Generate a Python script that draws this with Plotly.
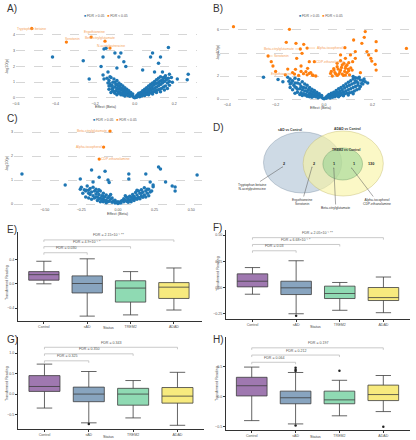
import plotly.graph_objects as go

W, H = 416, 440
BLUE = "#1f77b4"
ORANGE = "#ff7f0e"
LABEL_ORANGE = "#f5a25a"
FONT = "Liberation Sans, Arial, sans-serif"

# ------------------------------------------------------------------ data
# Volcano A (sAD vs Control): (effect, -log10 p)
a_ns = [
    (-0.415, 2.6), (-0.26, 2.35), (-0.23, 1.2), (-0.17, 2.0), (-0.16, 2.6), (-0.155, 3.1),
    (-0.145, 3.15), (-0.155, 1.2), (-0.125, 1.35), (-0.135, 1.65), (-0.16, 1.45),
    (-0.1, 2.85), (-0.07, 2.85), (-0.08, 2.6), (-0.055, 2.3), (-0.045, 2.0), (-0.09, 1.9),
    (0.09, 2.85), (0.08, 2.6), (0.12, 2.2), (0.13, 2.6), (0.17, 3.2), (0.04, 1.77),
    (0.1, 1.65), (0.14, 1.65), (0.175, 1.5), (0.155, 1.25), (0.19, 1.0), (0.215, 1.2),
    (0.27, 1.5), (0.265, 1.15),
    (-0.13, 1.1), (-0.125, 0.9), (-0.12, 1.3), (-0.115, 0.8), (-0.11, 1.0), (-0.105, 1.2),
    (-0.1, 0.7), (-0.1, 1.0), (-0.095, 0.85), (-0.09, 1.1), (-0.09, 0.6), (-0.085, 0.75),
    (-0.08, 0.95), (-0.08, 0.55), (-0.075, 0.7), (-0.07, 0.85), (-0.07, 0.5), (-0.065, 0.6),
    (-0.06, 0.75), (-0.06, 0.4), (-0.055, 0.5), (-0.05, 0.65), (-0.05, 0.35), (-0.045, 0.45),
    (-0.04, 0.55), (-0.04, 0.3), (-0.035, 0.4), (-0.03, 0.45), (-0.03, 0.22), (-0.025, 0.3),
    (-0.02, 0.35), (-0.02, 0.15), (-0.015, 0.2), (-0.01, 0.12), (-0.01, 0.25), (-0.005, 0.05),
    (0.0, 0.02), (0.005, 0.08), (0.01, 0.15), (0.01, 0.05), (0.015, 0.2), (0.02, 0.12),
    (0.02, 0.3), (0.025, 0.22), (0.03, 0.35), (0.03, 0.18), (0.035, 0.3), (0.04, 0.45),
    (0.04, 0.25), (0.045, 0.38), (0.05, 0.55), (0.05, 0.3), (0.055, 0.45), (0.06, 0.65),
    (0.06, 0.35), (0.065, 0.5), (0.07, 0.75), (0.07, 0.42), (0.075, 0.6), (0.08, 0.85),
    (0.08, 0.5), (0.085, 0.7), (0.09, 0.95), (0.09, 0.55), (0.095, 0.8), (0.1, 1.05),
    (0.1, 0.62), (0.105, 0.9), (0.11, 1.15), (0.11, 0.7), (0.115, 0.95), (0.12, 1.25),
    (0.12, 0.78), (0.125, 1.05), (0.13, 1.35), (0.13, 0.85), (0.135, 1.1), (0.14, 0.95),
    (0.145, 1.3), (0.15, 1.05), (0.155, 1.4), (0.16, 1.15), (0.165, 0.95), (-0.11, 0.65),
    (-0.12, 0.75), (-0.135, 0.95), (-0.14, 1.25), (0.17, 1.25), (0.175, 1.05), (0.185, 1.3),
    (-0.12, 0.35), (-0.1, 0.3), (-0.09, 0.2), (-0.08, 0.3), (-0.07, 0.2), (-0.06, 0.18),
    (-0.05, 0.12), (-0.11, 0.45), (-0.13, 0.55), (-0.13, 0.75), (-0.095, 0.45), (-0.085, 0.4),
    (-0.075, 0.35), (-0.065, 0.3), (-0.055, 0.25), (-0.045, 0.2), (-0.035, 0.15),
    (-0.025, 0.1), (0.025, 0.08), (0.035, 0.12), (0.045, 0.18), (0.055, 0.22), (0.065, 0.25),
    (0.075, 0.3), (0.085, 0.35), (0.095, 0.4), (0.105, 0.45), (0.115, 0.5), (0.125, 0.55),
    (0.135, 0.6), (0.145, 0.7), (0.155, 0.75), (0.165, 0.6), (0.175, 0.8), (0.15, 0.5),
    (0.13, 0.4), (0.11, 0.35), (0.09, 0.25), (0.07, 0.2), (0.05, 0.15), (-0.115, 0.55),
    (-0.105, 0.4), (0.12, 0.95), (0.14, 1.15), (-0.08, 0.75), (-0.09, 0.85), (0.06, 0.45),
    (0.075, 0.5), (-0.06, 0.55),
]
a_sig = [(-0.52, 4.40), (-0.22, 3.86), (-0.345, 3.54), (-0.15, 3.60), (-0.125, 3.16)]
a_names = ["Tryptophan betaine", "Ergothioneine", "Serotonin",
           "Beta-citrylglutamate", "N-acetylputrescine"]

# Volcano B (ADAD vs Control)
b_ns = [
    (-0.25, 1.9), (0.18, 1.4), (0.16, 1.6), (-0.19, 1.7), (-0.17, 1.5), (0.14, 1.8),
    (0.12, 1.95), (-0.15, 1.9), (-0.14, 1.3),
    (-0.13, 1.6), (-0.125, 1.2), (-0.12, 1.8), (-0.115, 1.0), (-0.11, 1.4), (-0.105, 1.7),
    (-0.1, 0.9), (-0.1, 1.3), (-0.095, 1.1), (-0.09, 1.5), (-0.09, 0.8), (-0.085, 1.0),
    (-0.08, 1.3), (-0.08, 0.7), (-0.075, 0.95), (-0.07, 1.2), (-0.07, 0.65), (-0.065, 0.8),
    (-0.06, 1.0), (-0.06, 0.5), (-0.055, 0.7), (-0.05, 0.85), (-0.05, 0.45), (-0.045, 0.6),
    (-0.04, 0.75), (-0.04, 0.35), (-0.035, 0.5), (-0.03, 0.6), (-0.03, 0.28), (-0.025, 0.4),
    (-0.02, 0.45), (-0.02, 0.18), (-0.015, 0.25), (-0.01, 0.15), (-0.01, 0.3), (-0.005, 0.06),
    (0.0, 0.03), (0.005, 0.1), (0.01, 0.2), (0.01, 0.07), (0.015, 0.28), (0.02, 0.15),
    (0.02, 0.4), (0.025, 0.3), (0.03, 0.5), (0.03, 0.22), (0.035, 0.4), (0.04, 0.6),
    (0.04, 0.32), (0.045, 0.5), (0.05, 0.75), (0.05, 0.4), (0.055, 0.6), (0.06, 0.9),
    (0.06, 0.48), (0.065, 0.7), (0.07, 1.0), (0.07, 0.55), (0.075, 0.8), (0.08, 1.15),
    (0.08, 0.62), (0.085, 0.95), (0.09, 1.3), (0.09, 0.7), (0.095, 1.1), (0.1, 1.45),
    (0.1, 0.8), (0.105, 1.2), (0.11, 1.6), (0.11, 0.9), (0.115, 1.3), (0.12, 1.75),
    (0.12, 1.0), (0.125, 1.4), (0.13, 1.85), (0.13, 1.1), (0.135, 1.5), (0.14, 1.2),
    (0.15, 1.65), (0.155, 1.35), (-0.135, 1.4), (-0.14, 1.75), (-0.145, 1.55), (-0.11, 0.85),
    (-0.12, 1.05), (0.145, 1.9), (0.165, 1.75), (0.17, 1.5),
    (-0.12, 0.5), (-0.1, 0.4), (-0.09, 0.3), (-0.08, 0.35), (-0.07, 0.25), (-0.06, 0.2),
    (-0.05, 0.15), (-0.13, 0.8), (-0.11, 0.6), (-0.095, 0.55), (-0.085, 0.45), (-0.075, 0.4),
    (-0.065, 0.35), (-0.055, 0.3), (-0.045, 0.25), (-0.035, 0.2), (-0.025, 0.12),
    (0.025, 0.1), (0.035, 0.15), (0.045, 0.2), (0.055, 0.28), (0.065, 0.3), (0.075, 0.38),
    (0.085, 0.45), (0.095, 0.5), (0.105, 0.55), (0.115, 0.6), (0.125, 0.7), (0.135, 0.8),
    (0.145, 0.9), (0.15, 1.1), (0.12, 0.45), (0.1, 0.35), (0.08, 0.28), (0.06, 0.2),
    (0.14, 1.4), (-0.14, 1.0), (-0.12, 1.4), (0.16, 1.3), (0.13, 1.6),
]
b_sig = [
    (-0.098, 4.35), (-0.231, 3.74), (-0.122, 2.17), (-0.07, 4.43), (-0.04, 3.25),
    (-0.374, 6.29), (-0.143, 6.06), (-0.156, 4.93), (-0.116, 4.84), (-0.084, 4.75),
    (-0.218, 3.25), (-0.211, 2.87), (-0.15, 2.6), (-0.118, 2.58), (-0.113, 3.54),
    (-0.095, 2.87), (-0.091, 3.97), (-0.061, 3.25), (-0.068, 2.67), (-0.075, 2.38),
    (-0.061, 2.23), (0.17, 5.86), (0.166, 5.36), (0.122, 5.13), (0.215, 4.98),
    (0.156, 4.84), (0.086, 4.46), (0.129, 4.12), (0.177, 4.12), (0.215, 4.2), (0.34, 4.4),
    (0.109, 3.83), (0.184, 3.83), (0.193, 3.54), (0.197, 3.3), (0.129, 3.54), (0.088, 3.54),
    (0.102, 3.16), (0.118, 3.25), (0.068, 3.33), (0.075, 2.96), (0.054, 2.81), (0.041, 2.52),
    (0.068, 2.52), (0.088, 2.67), (0.102, 2.46), (0.116, 2.52), (0.15, 2.29), (0.215, 2.52),
    (0.211, 3.02), (0.048, 2.17), (0.061, 2.17), (0.027, 2.23), (0.034, 2.0), (0.075, 2.17),
    (0.088, 2.09), (0.068, 3.83), (0.054, 3.1), (0.082, 3.1), (0.095, 2.96), (-0.034, 2.0),
    (-0.048, 2.09), (0.045, 2.3), (0.055, 2.05), (0.065, 2.35), (0.08, 2.05), (0.095, 2.3),
    (0.105, 2.1), (0.058, 2.6), (0.072, 2.75), (0.09, 2.85), (0.11, 2.7), (0.04, 2.65),
    (0.03, 2.4), (0.085, 2.4), (0.1, 2.6), (-0.105, 2.05), (-0.085, 2.2), (-0.07, 2.1),
    (-0.055, 2.3), (-0.045, 2.05), (-0.095, 2.4), (-0.13, 2.3), (-0.16, 2.1), (-0.2, 2.4),
]
b_names = ["Beta-citrylglutamate", "Serotonin", "Ergothioneine",
           "Alpha-tocopherol", "CDP-ethanolamine"]

# Volcano C (TREM2 vs Control)
c_ns = [
    (-0.655, 1.25), (-0.36, 0.79), (-0.257, 1.04), (-0.257, 0.62), (-0.18, 1.42),
    (-0.088, 1.37), (-0.128, 1.12), (0.277, 1.54), (0.29, 1.46), (0.54, 1.21), (0.19, 1.25),
    (0.325, 0.92), (0.37, 0.75), (0.39, 0.71), (0.39, 0.54), (0.074, 1.25), (0.074, 1.04),
    (0.22, 0.92), (0.24, 0.79), (-0.17, 0.92), (-0.068, 1.0), (-0.06, 0.9), (-0.216, 0.58),
    (-0.22, 0.29),
    (-0.22, 0.55), (-0.21, 0.75), (-0.2, 0.45), (-0.19, 0.65), (-0.18, 0.5), (-0.17, 0.7),
    (-0.17, 0.35), (-0.16, 0.55), (-0.15, 0.42), (-0.15, 0.62), (-0.14, 0.3), (-0.14, 0.5),
    (-0.13, 0.4), (-0.12, 0.55), (-0.12, 0.25), (-0.11, 0.35), (-0.1, 0.45), (-0.1, 0.2),
    (-0.09, 0.3), (-0.08, 0.38), (-0.08, 0.15), (-0.07, 0.25), (-0.06, 0.32), (-0.06, 0.12),
    (-0.05, 0.2), (-0.04, 0.25), (-0.04, 0.08), (-0.03, 0.13), (-0.02, 0.16), (-0.02, 0.05),
    (-0.01, 0.07), (0.0, 0.02), (0.01, 0.06), (0.02, 0.12), (0.02, 0.04), (0.03, 0.15),
    (0.04, 0.1), (0.04, 0.22), (0.05, 0.17), (0.06, 0.28), (0.06, 0.12), (0.07, 0.22),
    (0.08, 0.33), (0.08, 0.16), (0.09, 0.27), (0.1, 0.4), (0.1, 0.2), (0.11, 0.32),
    (0.12, 0.48), (0.12, 0.24), (0.13, 0.38), (0.14, 0.55), (0.14, 0.28), (0.15, 0.45),
    (0.16, 0.6), (0.16, 0.33), (0.17, 0.5), (0.18, 0.68), (0.18, 0.38), (0.19, 0.55),
    (0.2, 0.45), (0.21, 0.62), (0.22, 0.5), (-0.23, 0.6), (-0.25, 0.7), (0.24, 0.72),
    (-0.13, 0.6), (0.13, 0.58), (0.0, 0.1), (-0.05, 0.4), (0.05, 0.35),
    (-0.2, 0.25), (-0.18, 0.2), (-0.16, 0.25), (-0.14, 0.15), (-0.12, 0.1), (-0.1, 0.1),
    (-0.08, 0.06), (-0.19, 0.4), (-0.15, 0.3), (-0.13, 0.22), (-0.11, 0.18), (-0.09, 0.14),
    (-0.07, 0.1), (0.07, 0.08), (0.09, 0.1), (0.11, 0.15), (0.13, 0.2), (0.15, 0.22),
    (0.17, 0.28), (0.19, 0.3), (0.21, 0.35), (0.16, 0.45), (0.2, 0.62), (0.23, 0.55),
    (-0.24, 0.45), (-0.2, 0.58), (0.1, 0.3), (-0.1, 0.32),
]
c_sig = [(-0.054, 3.04), (-0.098, 2.375), (-0.128, 1.875)]
c_names = ["Beta-citrylglutamate", "Alpha-tocopherol", "CDP-ethanolamine"]

# Venn (D)
venn_sets = ["sAD vs Control", "ADAD vs Control", "TREM2 vs Control"]
venn_counts = ["2", "2", "1", "1", "130"]
venn_members = ["Tryptophan betaine<br>N-acetylputrescine", "Ergothioneine<br>Serotonin",
                "Beta-citrylglutamate", "Alpha-tocopherol<br>CDP-ethanolamine"]

# Box plots (E-H)
groups = ["Control", "sAD", "TREM2", "ADAD"]
box_colors = ["#9f78b0", "#88a4bf", "#8fdab3", "#f7ea7e"]

e_low = [0.0, -0.53, -0.51, -0.43]
e_q1 = [0.06, -0.15, -0.30, -0.24]
e_med = [0.15, 0.005, -0.07, -0.055]
e_q3 = [0.20, 0.13, 0.05, 0.02]
e_up = [0.37, 0.41, 0.20, 0.26]
e_out_x, e_out_y = [], []
e_fdr = ["FDR = 0.030", "FDR = 4.9×10⁻⁴ *", "FDR = 2.15×10⁻⁴ **"]
e_br = [0.51, 0.61, 0.72]

f_low = [-0.064, -0.25, -0.217, -0.24]
f_q1 = [0.006, -0.067, -0.105, -0.124]
f_med = [0.06, -0.003, -0.057, -0.096]
f_q3 = [0.13, 0.06, 0.013, 0.0]
f_up = [0.19, 0.255, 0.048, 0.10]
f_out_x, f_out_y = ["sAD"], [-0.27]
f_fdr = ["FDR = 0.03", "FDR = 6.68×10⁻⁴ *", "FDR = 2.05×10⁻⁴ **"]
f_br = [0.35, 0.41, 0.475]

g_low = [-0.34, -0.70, -0.58, -0.76]
g_q1 = [0.065, -0.185, -0.27, -0.22]
g_med = [0.185, 0.0, 0.0, -0.05]
g_q3 = [0.45, 0.17, 0.14, 0.16]
g_up = [0.73, 0.55, 0.33, 0.53]
g_out_x, g_out_y = ["sAD"], [-0.73]
g_fdr = ["FDR = 0.325", "FDR = 0.350", "FDR = 0.343"]
g_br = [0.81, 0.98, 1.14]

h_low = [-0.40, -0.455, -0.32, -0.25]
h_q1 = [0.01, -0.12, -0.12, -0.067]
h_med = [0.18, -0.02, -0.055, 0.033]
h_q3 = [0.32, 0.09, 0.09, 0.19]
h_up = [0.49, 0.40, 0.27, 0.35]
h_out_x = ["sAD", "sAD", "sAD", "sAD", "TREM2", "ADAD"]
h_out_y = [0.48, 0.445, 0.425, -0.48, 0.43, -0.50]
h_fdr = ["FDR = 0.064", "FDR = 0.212", "FDR = 0.197"]
h_br = [0.57, 0.69, 0.81]

# ------------------------------------------------------------------ helpers
def xd(a, b):
    return [a / W, b / W]


def yd(top, bottom):
    return [1 - bottom / H, 1 - top / H]


def names(i):
    s = "" if i == 1 else str(i)
    return "x" + s, "y" + s, "xaxis" + s, "yaxis" + s


fig = go.Figure()
annotations = []
shapes = []
layout_axes = {}
SMALL = 3.6
TICKFONT = dict(size=SMALL, color="#555")


def ptext(text, x, y, size=SMALL, color="#444", angle=0, xanchor="center", yanchor="middle"):
    annotations.append(dict(text=text, x=x / W, y=1 - y / H, xref="paper", yref="paper",
                            showarrow=False, font=dict(size=size, color=color),
                            textangle=angle, xanchor=xanchor, yanchor=yanchor))


def add_volcano(i, ns, sig, labels, offsets, xdom, ydom, xr, yr, xt, yt, xfmt):
    xa, ya, xk, yk = names(i)
    fig.add_trace(go.Scatter(x=[p[0] for p in ns], y=[p[1] for p in ns], mode="markers",
                             marker=dict(color=BLUE, size=3.5), xaxis=xa, yaxis=ya,
                             hoverinfo="skip", showlegend=False))
    fig.add_trace(go.Scatter(x=[p[0] for p in sig], y=[p[1] for p in sig], mode="markers",
                             marker=dict(color=ORANGE, size=3.3), xaxis=xa, yaxis=ya,
                             hoverinfo="skip", showlegend=False))
    for p, lab, off in zip(sig, labels, offsets):
        a = dict(text=lab, x=p[0], y=p[1], xref=xa, yref=ya,
                 font=dict(size=3.4, color=LABEL_ORANGE))
        if off is None:
            a.update(showarrow=False)
        else:
            a.update(showarrow=True, ax=off[0], ay=off[1], arrowhead=0, arrowwidth=0.5,
                     arrowcolor=LABEL_ORANGE, standoff=1)
        annotations.append(a)
    layout_axes[xk] = dict(domain=xd(*xdom), range=xr, tickvals=xt, tickformat=xfmt,
                           showgrid=False, zeroline=False, showline=False, ticks="",
                           tickfont=TICKFONT, anchor=ya, fixedrange=True)
    layout_axes[yk] = dict(domain=yd(*ydom), range=yr, tickvals=yt, showgrid=True,
                           gridcolor="#d6d6d6", griddash="dash", gridwidth=0.6,
                           zeroline=False, showline=False, ticks="", tickfont=TICKFONT,
                           anchor=xa, fixedrange=True)


def add_box(i, low, q1, med, q3, up, ox, oy, fdr, br, xdom, ydom, xr, yr, yt, yfmt):
    xa, ya, xk, yk = names(i)
    for g, c, lo, a, m, b, u in zip(groups, box_colors, low, q1, med, q3, up):
        fig.add_trace(go.Box(x=[g], lowerfence=[lo], q1=[a], median=[m], q3=[b],
                             upperfence=[u], fillcolor=c, width=0.7,
                             line=dict(color="#3d3d3d", width=0.8), xaxis=xa, yaxis=ya,
                             hoverinfo="skip", showlegend=False))
    if ox:
        fig.add_trace(go.Scatter(x=ox, y=oy, mode="markers",
                                 marker=dict(color="#222", size=2.5), xaxis=xa, yaxis=ya,
                                 hoverinfo="skip", showlegend=False))
    hpx = ydom[1] - ydom[0]
    drop = 2.0 * (yr[1] - yr[0]) / hpx
    for k, (txt, h) in enumerate(zip(fdr, br), start=1):
        for (x0, y0, x1, y1) in [(0, h, k, h), (0, h, 0, h - drop), (k, h, k, h - drop)]:
            shapes.append(dict(type="line", xref=xa, yref=ya, x0=x0, y0=y0, x1=x1, y1=y1,
                               line=dict(color="#bdbdbd", width=0.8)))
        annotations.append(dict(text=txt, x=k / 2, y=h, xref=xa, yref=ya, showarrow=False,
                                yanchor="bottom", yshift=0.5,
                                font=dict(size=SMALL, color="#555")))
    layout_axes[xk] = dict(domain=xd(*xdom), type="category", categoryorder="array",
                           categoryarray=groups, range=xr, showline=True,
                           linecolor="#333", linewidth=0.8, ticks="outside", ticklen=2,
                           tickwidth=0.6, tickcolor="#333", tickfont=TICKFONT,
                           showgrid=False, zeroline=False, anchor=ya, fixedrange=True)
    layout_axes[yk] = dict(domain=yd(*ydom), range=yr, tickvals=yt, tickformat=yfmt,
                           showline=True, linecolor="#333", linewidth=0.8, ticks="outside",
                           ticklen=2, tickwidth=0.6, tickcolor="#333", tickfont=TICKFONT,
                           showgrid=False, zeroline=False, anchor=xa, fixedrange=True)


# ------------------------------------------------------------------ volcanoes
add_volcano(1, a_ns, a_sig, a_names,
            [None, (3.5, -5), (6, -3), (-5, -3), (1.5, -2.5)],
            (12, 195), (26, 100), [-0.6, 0.315], [-0.13, 4.56],
            [-0.6, -0.4, -0.2, 0.0, 0.2], [0, 1, 2, 3, 4], ".1f")
add_volcano(2, b_ns, b_sig, b_names,
            [(-21.5, 0), (13.5, 0), (-13, 0), (22.5, 0), (16, 0)],
            (218, 410), (24, 101), [-0.43, 0.355], [-0.17, 6.52],
            [-0.4, -0.2, 0.0, 0.2], [0, 2, 4, 6], ".1f")
add_volcano(3, c_ns, c_sig, c_names,
            [(-18.5, 0), (-14.5, 0), (16.5, 0)],
            (10, 200), (128, 206), [-0.71, 0.574], [-0.08, 3.17],
            [-0.5, -0.25, 0.0, 0.25, 0.5], [0, 1, 2, 3], ".2f")

legend_html = (f"<span style='color:{BLUE}'>■</span> FDR > 0.05   "
               f"<span style='color:{ORANGE}'>■</span> FDR < 0.05")
ptext(legend_html, 103, 16, size=3.4, color="#555")
ptext(legend_html, 320, 16, size=3.4, color="#555")
ptext(legend_html, 112, 120, size=3.4, color="#555")

ptext("Effect (Beta)", 103, 107, size=3.8)
ptext("-log10(p)", 3, 66, size=3.8, angle=-90)
ptext("Effect (Beta)", 320, 108, size=3.8)
ptext("-log10(p)", 216, 52, size=3.8, angle=-90)
ptext("Effect (Beta)", 115, 214, size=3.8)
ptext("-log10(p)", 3, 163, size=3.8, angle=-90)

# ------------------------------------------------------------------ venn (D)
layout_axes["xaxis4"] = dict(domain=xd(208, 416), range=[208, 416], visible=False,
                             anchor="y4", fixedrange=True)
layout_axes["yaxis4"] = dict(domain=yd(110, 215), range=[215, 110], visible=False,
                             anchor="x4", fixedrange=True)
for (x0, x1, y0, y1, fc, lc) in [
    (262, 341, 132, 193, "rgba(165,188,208,0.55)", "rgba(120,140,160,0.8)"),
    (302, 383, 131, 196, "rgba(248,243,160,0.6)", "rgba(190,180,100,0.8)"),
    (322, 362, 148, 180, "rgba(140,208,140,0.5)", "rgba(100,150,100,0.8)"),
]:
    shapes.append(dict(type="circle", xref="x4", yref="y4", x0=x0, x1=x1, y0=y0, y1=y1,
                       fillcolor=fc, line=dict(color=lc, width=0.5), layer="below"))

for txt, (x, y) in zip(venn_sets, [(289, 129.5), (347, 129), (345, 150)]):
    annotations.append(dict(text=f"<b>{txt}</b>", x=x, y=y, xref="x4", yref="y4",
                            showarrow=False, font=dict(size=3.3, color="#333")))
for txt, (x, y) in zip(venn_counts, [(283, 164), (313, 164), (333, 164), (353, 164), (371, 164)]):
    annotations.append(dict(text=f"<b>{txt}</b>", x=x, y=y, xref="x4", yref="y4",
                            showarrow=False, font=dict(size=3.8, color="#222")))
for txt, (px_, py_, tx, ty) in zip(venn_members, [(281, 167, 250, 187), (311, 167, 301, 202),
                                                   (333, 168, 335, 208), (351, 168, 377, 202)]):
    annotations.append(dict(text=txt, x=px_, y=py_, xref="x4", yref="y4", ax=tx, ay=ty,
                            axref="x4", ayref="y4", showarrow=True, arrowhead=6,
                            arrowsize=0.4, arrowwidth=0.5, arrowcolor="#555",
                            font=dict(size=3.3, color="#333")))

# ------------------------------------------------------------------ boxes
add_box(5, e_low, e_q1, e_med, e_q3, e_up, e_out_x, e_out_y, e_fdr, e_br,
        (14, 200), (232, 321), [-0.6, 3.65], [-0.61, 0.85], [-0.4, 0.0, 0.4], ".1f")
add_box(6, f_low, f_q1, f_med, f_q3, f_up, f_out_x, f_out_y, f_fdr, f_br,
        (224, 410), (230, 319), [-0.61, 3.61], [-0.30, 0.548], [-0.25, 0.0, 0.25, 0.5], ".2f")
add_box(7, g_low, g_q1, g_med, g_q3, g_up, g_out_x, g_out_y, g_fdr, g_br,
        (14, 202), (337, 429), [-0.6, 3.6], [-0.85, 1.39], [-0.5, 0.0, 0.5, 1.0], ".1f")
add_box(8, h_low, h_q1, h_med, h_q3, h_up, h_out_x, h_out_y, h_fdr, h_br,
        (224, 410), (337, 430), [-0.59, 3.61], [-0.556, 0.99], [-0.5, 0.0, 0.5], ".1f")

for x, y in [(3, 282), (3, 383)]:
    ptext("Transformed Reading", x, y, size=3.6, angle=-90)
for x, y in [(216, 273), (215, 383)]:
    ptext("Transformed Reading", x, y, size=3.6, angle=-90)
for x, y in [(106, 327.5), (315, 326.5), (106, 436.5), (315, 436.5)]:
    ptext("Status", x, y, size=3.8)

# ------------------------------------------------------------------ panel letters
for letter, (x, y) in zip("ABCDEFGH", [(1, 1), (209, 1), (1, 111), (209, 120),
                                       (1, 222), (209, 220), (1, 332), (209, 332)]):
    ptext(letter + ")", x, y, size=10, color="#333", xanchor="left", yanchor="top")

fig.update_layout(
    width=W, height=H, margin=dict(l=0, r=0, t=0, b=0),
    paper_bgcolor="white", plot_bgcolor="white",
    font=dict(family=FONT, color="#444"),
    showlegend=False, annotations=annotations, shapes=shapes, **layout_axes,
)
fig.write_html("out.html", config={"displayModeBar": False},
               post_script="document.body.style.margin='0';document.body.style.padding='0';")
